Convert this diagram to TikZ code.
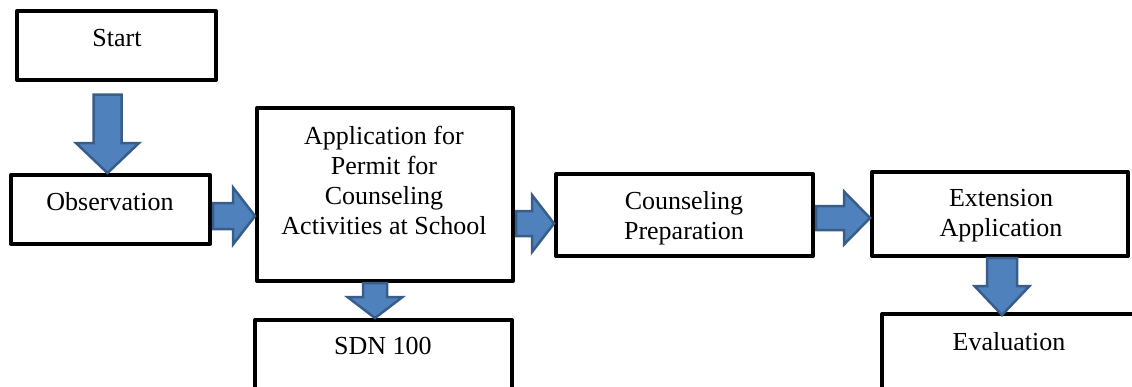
\documentclass[tikz,border=0pt]{standalone}
\usepackage{fontspec}
\setmainfont{Liberation Serif}
\usetikzlibrary{calc}
\definecolor{arrfill}{RGB}{79,129,189}
\definecolor{arrdraw}{RGB}{56,93,138}
\tikzset{
  box/.style={draw=black, line width=4pt, fill=white, inner sep=0pt, line join=round},
  lbl/.style={font=\fontsize{26}{30}\selectfont, align=center, inner sep=0pt},
  blockarrow/.style={draw=arrdraw, fill=arrfill, line width=2.5pt, line join=miter},
}
\newcommand\BlockRight[5]{%
  \draw[blockarrow] let \p1=#1, \p2=#2 in
  (\x1+1pt,\y1-#3) -- (\x2-#5,\y1-#3) -- (\x2-#5,\y1-#4) -- (\x2,\y1)
  -- (\x2-#5,\y1+#4) -- (\x2-#5,\y1+#3) -- (\x1+1pt,\y1+#3) -- cycle;}
\newcommand\BlockDown[5]{%
  \draw[blockarrow] let \p1=#1, \p2=#2 in
  (\x1-#3,\y1) -- (\x1-#3,\y2+#5) -- (\x1-#4,\y2+#5) -- (\x1,\y2)
  -- (\x1+#4,\y2+#5) -- (\x1+#3,\y2+#5) -- (\x1+#3,\y1) -- cycle;}
\begin{document}
\begin{tikzpicture}[x=1pt,y=1pt]
\useasboundingbox (0,0) rectangle (1132,-386);
\clip (0,0) rectangle (1132,-386);
% boxes
\node[box, minimum width=199pt, minimum height=69pt] (start) at (116.5,-45.5) {};
\node[box, minimum width=199pt, minimum height=69pt] (obs) at (110.5,-209.5) {};
\node[box, minimum width=256pt, minimum height=173pt] (app) at (385,-194.5) {};
\node[box, minimum width=257pt, minimum height=100pt] (sdn) at (383.5,-370) {};
\node[box, minimum width=257pt, minimum height=82pt] (couns) at (684.5,-215) {};
\node[box, minimum width=256pt, minimum height=84pt] (ext) at (1000,-214) {};
\node[box, minimum width=298pt, minimum height=106pt] (eval) at (1031,-367) {};
% labels
\node[lbl] (startT) at (117,-38.5) {Start};
\node[lbl] (obsT) at (110,-201.5) {Observation};
\node[lbl] (appT) at (384,-180) {Application for\\Permit for\\Counseling\\Activities at School};
\node[lbl] (sdnT) at (383,-346) {SDN 100};
\node[lbl] (counsT) at (684,-218.7) {Counseling\\Preparation};
\node[lbl] (extT) at (1001,-216) {Extension\\Application};
\node[lbl] (evalT) at (1009,-342) {Evaluation};
% block arrows
\BlockDown{($(107.5,0 |- start.south)+(0,-12.5)$)}{(obs.north)}{14pt}{31.5pt}{30pt}
\BlockRight{(obs.east |- 0,-216)}{(app.west)}{13pt}{28.5pt}{22pt}
\BlockDown{(375,0 |- app.south)}{(sdn.north)}{12pt}{27.5pt}{21pt}
\BlockRight{(app.east |- 0,-223.5)}{(couns.west)}{12.5pt}{28.5pt}{22pt}
\BlockRight{(couns.east |- 0,-218)}{(ext.west)}{12pt}{26.5pt}{26pt}
\BlockDown{(1002,0 |- ext.south)}{($(eval.north)+(0,-3)$)}{15pt}{27.5pt}{29pt}
\end{tikzpicture}
\end{document}
